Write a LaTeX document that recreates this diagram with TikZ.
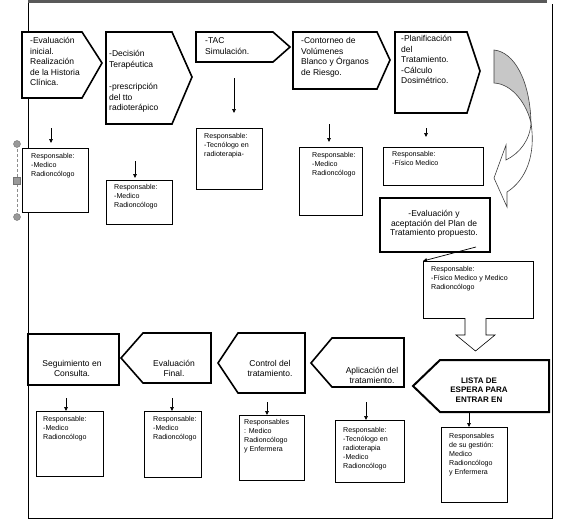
\documentclass[tikz,border=0pt]{standalone}
\usepackage{fontspec}
\setmainfont{Liberation Sans}
\usetikzlibrary{arrows.meta}
\begin{document}
\begin{tikzpicture}[x=1pt,y=-1pt,
  shp/.style={draw=black, line width=1.6pt, fill=white, line join=miter},
  thk/.style={draw=black, line width=2.1pt, fill=white},
  resp/.style={draw=black, line width=0.8pt, fill=white, inner sep=0pt, anchor=north west},
  big/.style={font=\fontsize{8.5}{10.4}\selectfont, align=left, inner sep=0pt, anchor=north west},
  bigc/.style={font=\fontsize{8.5}{10}\selectfont, align=center, inner sep=0pt},
  small/.style={font=\fontsize{7.1}{8.8}\selectfont, align=left, inner sep=0pt, anchor=north west},
  arr/.style={-{Triangle[length=4pt,width=3.6pt]}, line width=0.7pt},
  handle/.style={fill=black!40, draw=black!55, line width=0.4pt},
]
\useasboundingbox (0,0) rectangle (562,530);
\fill[white] (0,0) rectangle (562,530);

% frame
\draw[line width=0.8pt] (28,0) -- (28,518) -- (552,518) -- (552,4);
\draw[line width=3pt, draw=black!65] (28,1.5) -- (547,1.5);

% selection handles
\draw[densely dashed, draw=black!45, line width=0.5pt] (17,144) -- (17,217);
\draw[handle] (17,144) circle (3.5pt);
\draw[handle] (17,217) circle (3.5pt);
\draw[handle] (13.5,177.5) rectangle (20.5,184.5);

% ---------- top row pentagons ----------
\draw[shp] (22,32) -- (82,32) -- (102,63) -- (82,98) -- (22,98) -- cycle;
\node[big] (p1) at (30,37.5) {-Evaluación\\inicial.\\Realización\\de la Historia\\Clínica.};

\draw[shp] (106,32) -- (172,32) -- (192,77) -- (172,124) -- (106,124) -- cycle;
\node[big] (p2) at (109,50.5) {-Decisión\\Terapéutica\\[12pt]-prescripción\\del tto\\radioterápico};

\draw[shp] (196,32) -- (273,32) -- (290,47) -- (273,62) -- (196,62) -- cycle;
\node[big] (p3) at (205,37.5) {-TAC\\Simulación.};

\draw[shp] (293,32) -- (377,32) -- (390,60) -- (377,89) -- (293,89) -- cycle;
\node[big] (p4) at (301,37.5) {-Contorneo de\\Volúmenes\\Blanco y Órganos\\de Riesgo.};

\draw[shp] (395,32) -- (467,32) -- (480,71) -- (467,113) -- (395,113) -- cycle;
\node[big] (p5) at (401,35.5) {-Planificación\\del\\Tratamiento.\\-Cálculo\\Dosimétrico.};

% curved arrow
\filldraw[fill=black!22, draw=black!75, line width=0.6pt]
  (494,50) .. controls (514,52) and (530,80) .. (531,123)
  .. controls (527,105) and (513,84) .. (494,83) -- cycle;
\filldraw[fill=white, draw=black!75, line width=0.6pt]
  (531,123) .. controls (530,140) and (520,153) .. (506,160)
  -- (506,145) -- (494,178) -- (507,207) -- (507,192)
  .. controls (526,180) and (536,155) .. (531,123) -- cycle;

% ---------- top row responsables ----------
\node[resp, minimum width=66pt, minimum height=64pt] (r1) at (22,148) {};
\node[small] (r1t) at (31,153.5) {Responsable:\\-Medico\\Radioncólogo};
\node[resp, minimum width=66pt, minimum height=44pt] (r2) at (106,180) {};
\node[small] (r2t) at (114,184.5) {Responsable:\\-Medico\\Radioncólogo};
\node[resp, minimum width=66pt, minimum height=61pt] (r3) at (196,128) {};
\node[small] (r3t) at (204,133.5) {Responsable:\\-Tecnólogo en\\radioterapia-};
\node[resp, minimum width=63pt, minimum height=68pt] (r4) at (299,147) {};
\node[small] (r4t) at (312,152.5) {Responsable:\\-Medico\\Radioncólogo};
\node[resp, minimum width=100pt, minimum height=38pt] (r5) at (383,147) {};
\node[small] (r5t) at (392,151.5) {Responsable:\\-Físico Medico};

\coordinate (a1) at (51,128);
\coordinate (a2) at (135,161);
\coordinate (a3) at (234,78);
\coordinate (a4) at (329,124);
\coordinate (a5) at (426,128);
\draw[arr, shorten >=5pt] (a1) -- (a1 |- r1.north);
\draw[arr, shorten >=2pt] (a2) -- (a2 |- r2.north);
\draw[arr, shorten >=15pt] (a3) -- (a3 |- r3.north);
\draw[arr, shorten >=5pt] (a4) -- (a4 |- r4.north);
\draw[arr, shorten >=10pt] (a5) -- (a5 |- r5.north);

% evaluation box
\node[thk, line width=2.4pt, minimum width=110pt, minimum height=54pt, anchor=north west] (ev) at (379,197) {};
\node[font=\fontsize{8.5}{9.6}\selectfont, align=center, inner sep=0pt] (evt) at (434,224) {-Evaluación y\\aceptación del Plan de\\Tratamiento propuesto.};
\node[resp, minimum width=110pt, minimum height=57pt] (re) at (423,261) {};
\node[small] (ret) at (431,266.5) {Responsable:\\-Físico Medico y Medico\\Radioncólogo};
\coordinate (ae) at (476,247);
\draw[arr] (ae) -- (478,261 -| re.north west) ;

% block arrow down
\draw[fill=white, line width=0.6pt] (465,318) -- (465,335) -- (456,335) -- (475.5,351) -- (495,335) -- (486,335) -- (486,318);

% ---------- lower row ----------
\draw[thk, line width=2pt] (413,386) -- (440,360) -- (549,360) -- (549,412) -- (440,412) -- cycle;
\node[font=\bfseries\fontsize{8}{9.6}\selectfont, align=center, inner sep=0pt] (lista) at (479,390) {LISTA DE\\ESPERA PARA\\ENTRAR EN};

\draw[shp] (311,363) -- (332,338) -- (404,338) -- (404,387) -- (332,387) -- cycle;
\node[bigc] (apl) at (372,375) {Aplicación del\\tratamiento.};

\draw[shp] (218,363) -- (238,333) -- (305,333) -- (305,393) -- (238,393) -- cycle;
\node[bigc] (ctl) at (270,368) {Control del\\tratamiento.};

\draw[shp] (121,358) -- (143,333) -- (211,333) -- (211,383) -- (143,383) -- cycle;
\node[bigc] (ef) at (174,368) {Evaluación\\Final.};

\node[thk, line width=2.1pt, minimum width=91pt, minimum height=51pt, anchor=north west] (seg) at (27,333) {};
\node[bigc] (segt) at (72,368) {Seguimiento en\\Consulta.};

% lower responsables
\node[resp, minimum width=67pt, minimum height=65pt] (s1) at (36,411) {};
\node[small] (s1t) at (43,416.5) {Responsable:\\-Medico\\Radioncólogo};
\node[resp, minimum width=57pt, minimum height=66pt] (s2) at (144,411) {};
\node[small] (s2t) at (153,416.5) {Responsable:\\-Medico\\Radioncólogo};
\node[resp, minimum width=65pt, minimum height=65pt] (s3) at (239,415) {};
\node[small] (s3t) at (244,419.5) {Responsables\\: Medico\\Radioncólogo\\y Enfermera};
\node[resp, minimum width=69pt, minimum height=62pt] (s4) at (335,420) {};
\node[small] (s4t) at (343,427.5) {Responsable:\\-Tecnólogo en\\radioterapia\\-Medico\\Radioncólogo};
\node[resp, minimum width=66pt, minimum height=75pt] (s5) at (441,427) {};
\node[small] (s5t) at (449,433.5) {Responsables\\de su gestión:\\Medico\\Radioncólogo\\y Enfermera};

\coordinate (b1) at (66,398);
\coordinate (b2) at (172,398);
\coordinate (b3) at (267,402);
\coordinate (b4) at (366,402);
\coordinate (b5) at (469,412);
\draw[arr] (b1) -- (b1 |- s1.north);
\draw[arr] (b2) -- (b2 |- s2.north);
\draw[arr] (b3) -- (b3 |- s3.north);
\draw[arr] (b4) -- (b4 |- s4.north);
\draw[arr] (b5) -- (b5 |- s5.north);
\end{tikzpicture}
\end{document}
